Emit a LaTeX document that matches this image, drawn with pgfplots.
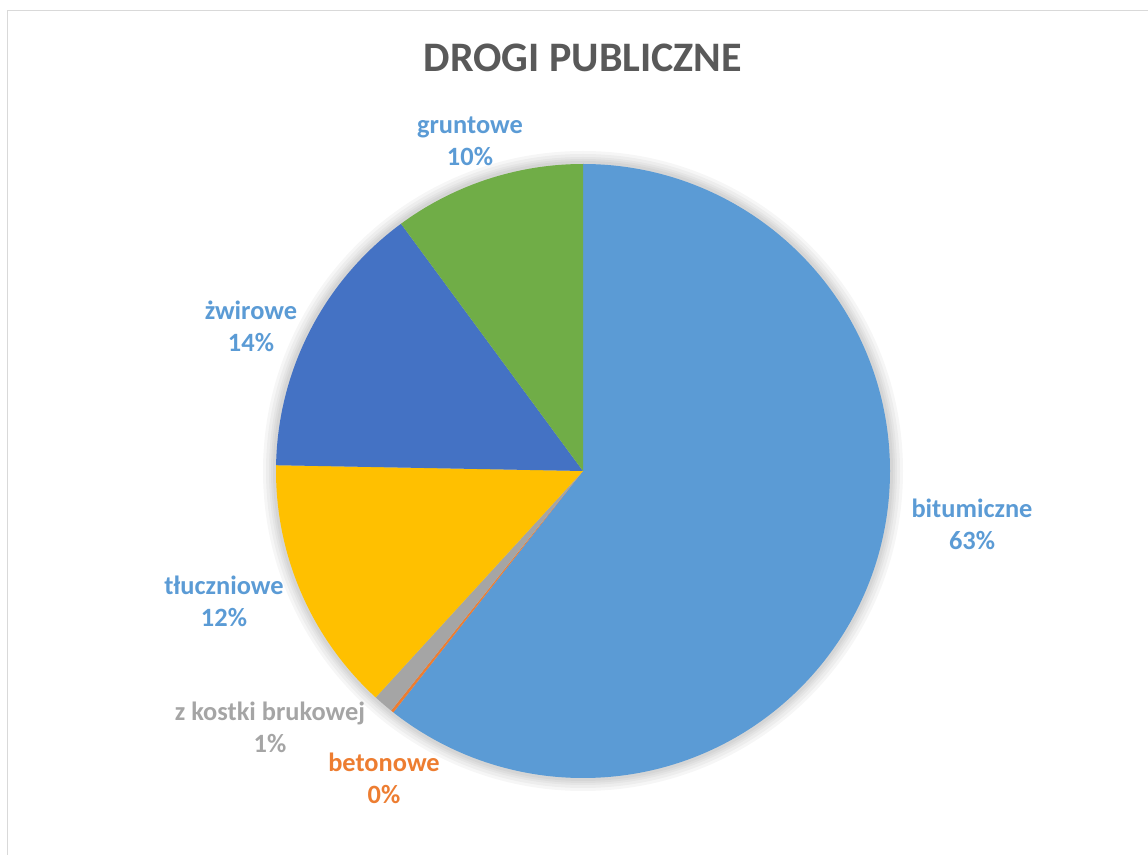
\documentclass[border=0pt]{standalone}
\usepackage{fontspec}
\setmainfont{Carlito}
\usepackage{pgfplots}
\usepackage{pgfplotstable}
\pgfplotsset{compat=1.18}

\definecolor{cBit}{HTML}{5B9BD5}
\definecolor{cBet}{HTML}{ED7D31}
\definecolor{cKos}{HTML}{A5A5A5}
\definecolor{cTlu}{HTML}{FFC000}
\definecolor{cZwi}{HTML}{4472C4}
\definecolor{cGru}{HTML}{70AD47}
\definecolor{titlegray}{HTML}{595959}
\definecolor{framegray}{HTML}{D9D9D9}

% slice shares in percent, clockwise from the top
\pgfplotstableread{
name        value  col
bitumiczne  60.6   cBit
betonowe    0.15   cBet
kostki      1.05   cKos
tluczniowe  13.5   cTlu
zwirowe     14.6   cZwi
gruntowe    10.1   cGru
}\piedata

\begin{document}
\begin{tikzpicture}
\begin{axis}[
    width=574pt, height=427.5pt,
    scale only axis,
    xmin=0, xmax=1148, ymin=0, ymax=855,
    y dir=reverse,
    axis lines=none,
    ticks=none,
    clip=false,
]
    % frame of the chart area (top and left edges visible)
    \draw[framegray, line width=0.8pt] (axis cs:7.5,855) -- (axis cs:7.5,10.5) -- (axis cs:1148,10.5);

    % soft shadow around the pie
    \pgfplotsforeachungrouped \r in {160,158.5,157,156,155}{
        \edef\temp{\noexpand\fill[black, opacity=0.035] (axis cs:583,471) circle[radius=\r pt];}
        \temp
    }

    % pie slices
    \gdef\acc{0}
    \pgfplotstablegetrowsof{\piedata}
    \pgfmathtruncatemacro\lastrow{\pgfplotsretval-1}
    \pgfplotsforeachungrouped \i in {0,...,\lastrow}{
        \pgfplotstablegetelem{\i}{value}\of\piedata \let\v\pgfplotsretval
        \pgfplotstablegetelem{\i}{col}\of\piedata \let\c\pgfplotsretval
        \pgfmathsetmacro\sa{90-3.6*\acc}
        \pgfmathsetmacro\ea{90-3.6*(\acc+\v)}
        \pgfmathsetmacro\newacc{\acc+\v}
        \global\let\acc\newacc
        \edef\temp{\noexpand\fill[\c] (axis cs:583,471) -- ++(\sa:153.5pt)
            arc[start angle=\sa, end angle=\ea, radius=153.5pt] -- cycle;}
        \temp
    }

    % title
    \node[anchor=base, font=\fontsize{21pt}{25pt}\selectfont\bfseries, text=titlegray]
        at (axis cs:583,72) {DROGI PUBLICZNE};

    % data labels
    \tikzset{lab/.style={align=center, font=\fontsize{13.2pt}{16pt}\selectfont\bfseries}}
    \node[lab, text=cBit] at (axis cs:972,524) {bitumiczne\\63\%};
    \node[lab, text=cBit] at (axis cs:470,141) {gruntowe\\10\%};
    \node[lab, text=cBit] at (axis cs:251,326) {żwirowe\\14\%};
    \node[lab, text=cBit] at (axis cs:224,601) {tłuczniowe\\12\%};
    \node[lab, text=cKos] at (axis cs:270,727) {z kostki brukowej\\1\%};
    \node[lab, text=cBet] at (axis cs:384,778) {betonowe\\0\%};
\end{axis}
\pgfresetboundingbox
\useasboundingbox (current axis.south west) rectangle (current axis.north east);
\end{tikzpicture}
\end{document}
